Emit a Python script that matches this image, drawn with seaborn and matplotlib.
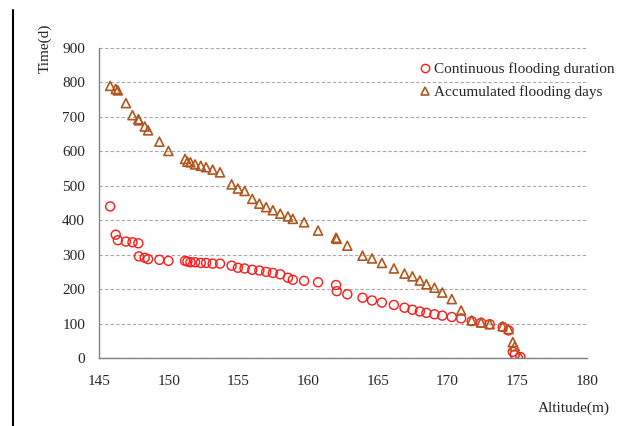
import numpy as np
import pandas as pd
import matplotlib
matplotlib.use('Agg')
import matplotlib.pyplot as plt
import seaborn as sns
from matplotlib.lines import Line2D

# altitude (m) of each observation
altitude = [145.8, 146.2, 146.35, 146.93, 147.4, 147.82, 147.86, 148.28, 148.52, 149.33,
            149.98, 151.17, 151.34, 151.56, 151.89, 152.3, 152.68, 153.15, 153.68, 154.51,
            154.96, 155.44, 155.99, 156.5, 156.99, 157.47, 158.0, 158.55, 158.9, 159.71,
            160.71, 162.0, 162.05, 162.81, 163.9, 164.58, 165.29, 166.15, 166.91, 167.48,
            168.01, 168.48, 169.06, 169.62, 170.3, 170.97, 171.73, 172.4, 173.02, 173.95,
            174.38, 174.68, 174.82, 175.22]

continuous_days = [440, 358, 342, 338, 336, 333, 295, 291, 287, 285,
                   282, 282, 280, 278, 278, 276, 276, 274, 274, 268,
                   262, 260, 256, 254, 250, 247, 243, 233, 227, 224,
                   220, 212, 194, 185, 175, 167, 161, 154, 146, 140,
                   135, 131, 127, 123, 119, 115, 107, 102, 98, 90,
                   80, 18, 10, 3]

accumulated_days = [790, 781, 777, 740, 705, 693, 690, 672, 661, 628,
                    601, 578, 570, 568, 562, 558, 554, 547, 539, 504,
                    492, 485, 462, 448, 438, 429, 419, 411, 404, 394,
                    370, 349, 346, 326, 297, 289, 276, 260, 245, 237,
                    225, 214, 204, 190, 171, 138, 109, 103, 98, 92,
                    84, 46, 34, 1]

df = pd.DataFrame({'altitude': altitude,
                   'continuous': continuous_days,
                   'accumulated': accumulated_days})

sns.set_style('white')
plt.rcParams['font.family'] = ['Liberation Serif', 'DejaVu Serif']

red = '#FF1A1A'
brown = '#B0561E'
fs = 11

fig = plt.figure(figsize=(6.38, 4.26), dpi=100)
ax = fig.add_axes([99 / 638, 1 - 358 / 426, 488 / 638, 310 / 426])

sns.scatterplot(data=df, x='altitude', y='continuous', ax=ax, marker='o', s=42,
                facecolors='none', edgecolor=red, linewidth=1.0, zorder=3)
sns.scatterplot(data=df, x='altitude', y='accumulated', ax=ax, marker='^', s=42,
                facecolors='none', edgecolor=brown, linewidth=1.2, zorder=3)

ax.set_xlim(145, 180)
ax.set_ylim(0, 900)
ax.set_xticks(np.arange(145, 181, 5))
ax.set_yticks(np.arange(0, 901, 100))
ax.yaxis.grid(True, linestyle=(0, (3, 2)), color='#a8a8a8', linewidth=0.8)
ax.set_axisbelow(True)

for side in ['top', 'right']:
    ax.spines[side].set_visible(False)
for side in ['left', 'bottom']:
    ax.spines[side].set_color('#808080')
    ax.spines[side].set_linewidth(1.0)

ax.tick_params(axis='x', direction='in', length=4, color='#808080', labelsize=fs, pad=12)
ax.tick_params(axis='y', length=0, labelsize=fs, pad=10)

ax.set_xlabel('Altitude(m)', fontsize=fs)
ax.set_ylabel('Time(d)', fontsize=fs)
ax.xaxis.set_label_coords(0.973, -0.14)
ax.yaxis.set_label_coords(-0.097, 1.0)

handles = [Line2D([], [], marker='o', linestyle='none', markerfacecolor='none',
                  markeredgecolor=red, markersize=6.0, markeredgewidth=1.0),
           Line2D([], [], marker='^', linestyle='none', markerfacecolor='none',
                  markeredgecolor=brown, markersize=6.0, markeredgewidth=1.2)]
ax.legend(handles, ['Continuous flooding duration', 'Accumulated flooding days'],
          loc='upper left', bbox_to_anchor=((410 - 99) / 488, 1 - 7 / 310),
          frameon=False, fontsize=fs, handlelength=1.0, handletextpad=0.1,
          borderpad=0, labelspacing=0.6)

# vertical rule at the left edge of the figure
fig.add_artist(Line2D([13 / 638, 13 / 638], [0, 1 - 10 / 426], color='black', linewidth=1.5))

fig.savefig('out.png', dpi=100)
